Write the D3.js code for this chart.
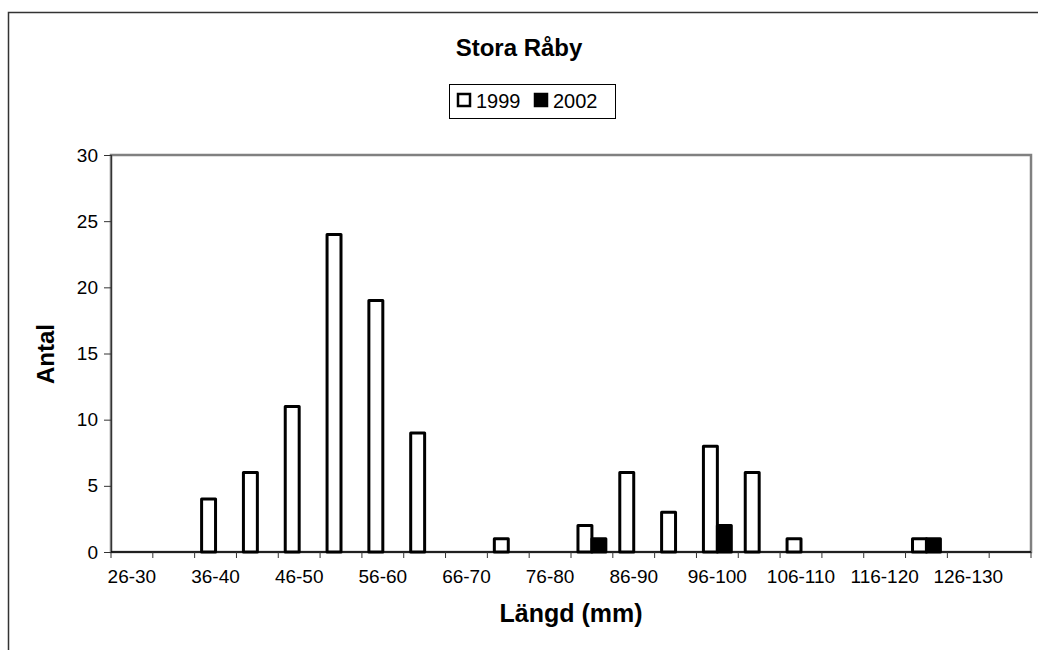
<!DOCTYPE html>
<html>
<head>
<meta charset="utf-8">
<script src="https://cdn.jsdelivr.net/npm/d3@7"></script>
<style>
  body { margin: 0; background: #fff; }
  text { font-family: Arial, "Liberation Sans", sans-serif; }
</style>
</head>
<body>
<script>
let categories = ["26-30", "31-35", "36-40", "41-45", "46-50", "51-55", "56-60", "61-65",
    "66-70", "71-75", "76-80", "81-85", "86-90", "91-95", "96-100", "101-105",
    "106-110", "111-115", "116-120", "121-125", "126-130", "131-135"];
let values1999 = [0, 0, 4, 6, 11, 24, 19, 9, 0, 1, 0, 2, 6, 3, 8, 6, 1, 0, 0, 1, 0, 0];
let values2002 = [0, 0, 0, 0, 0, 0, 0, 0, 0, 0, 0, 1, 0, 0, 2, 0, 0, 0, 0, 1, 0, 0];
let seriesNames = ["1999", "2002"];
let yTicks = [0, 5, 10, 15, 20, 25, 30];

let width = 1038, height = 650;
let plot = {left: 111, top: 155, right: 1031, bottom: 552};

let svg = d3.select("body").append("svg")
    .attr("width", width).attr("height", height);

// outer chart frame (only top and left visible)
svg.append("path")
    .attr("d", "M8.5," + height + "V12.5H" + width)
    .attr("fill", "none").attr("stroke", "#333").attr("stroke-width", 1.5);

let x = d3.scaleBand().domain(categories).range([plot.left, plot.right]).paddingInner(0).paddingOuter(0);
let xs = d3.scaleBand().domain(seriesNames).range([0, x.bandwidth()]).paddingInner(0).paddingOuter(0.5);
let y = d3.scaleLinear().domain([0, 30]).range([plot.bottom, plot.top]);

// plot area border
svg.append("rect")
    .attr("x", plot.left).attr("y", plot.top)
    .attr("width", plot.right - plot.left).attr("height", plot.bottom - plot.top)
    .attr("fill", "#fff").attr("stroke", "#808080").attr("stroke-width", 2.5);

// bars
let rows = categories.map((c, i) => ({cat: c, v: [values1999[i], values2002[i]]}));
let groups = svg.selectAll("g.cat").data(rows).enter().append("g")
    .attr("class", "cat")
    .attr("transform", d => "translate(" + x(d.cat) + ",0)");

groups.selectAll("rect")
    .data(d => d.v.map((v, j) => ({s: seriesNames[j], v: v})).filter(e => e.v > 0))
    .enter().append("rect")
    .attr("x", d => xs(d.s))
    .attr("width", xs.bandwidth())
    .attr("y", d => y(d.v))
    .attr("height", d => y(0) - y(d.v))
    .attr("fill", d => d.s == "1999" ? "#fff" : "#000")
    .attr("stroke", "#000").attr("stroke-width", 3)
    .attr("stroke-linejoin", "round");

// y axis
let yAxis = svg.append("g")
    .attr("transform", "translate(" + plot.left + ",0)")
    .call(d3.axisLeft(y).tickValues(yTicks).tickSize(7).tickPadding(6));
yAxis.select(".domain").attr("stroke", "#333").attr("stroke-width", 1.2);
yAxis.selectAll(".tick line").attr("stroke", "#333");
yAxis.selectAll("text").attr("font-size", 19).attr("fill", "#000");

// x axis: ticks at category boundaries, labels every second category
let xAxisG = svg.append("g").attr("transform", "translate(0," + plot.bottom + ")");
xAxisG.append("line")
    .attr("x1", plot.left).attr("x2", plot.right)
    .attr("stroke", "#000").attr("stroke-width", 1.5);
let boundaries = categories.map(c => x(c)).concat([x.range()[1]]);
xAxisG.selectAll("line.tk").data(boundaries).enter().append("line")
    .attr("class", "tk")
    .attr("x1", d => d).attr("x2", d => d)
    .attr("y1", 0).attr("y2", 6)
    .attr("stroke", "#333").attr("stroke-width", 1);
xAxisG.selectAll("text").data(categories.filter((c, i) => i % 2 == 0)).enter().append("text")
    .attr("x", d => x(d) + x.bandwidth() / 2)
    .attr("y", 31)
    .attr("text-anchor", "middle")
    .attr("font-size", 19)
    .text(d => d);

// title
svg.append("text")
    .attr("x", 519).attr("y", 56)
    .attr("text-anchor", "middle")
    .attr("font-size", 24).attr("font-weight", "bold")
    .text("Stora Råby");

// legend
let legend = svg.append("g").attr("transform", "translate(449,84)");
legend.append("rect")
    .attr("x", 0.5).attr("y", 0.5).attr("width", 166).attr("height", 34)
    .attr("fill", "#fff").attr("stroke", "#000").attr("stroke-width", 1);
let legendX = [8, 85];
seriesNames.forEach((s, i) => {
    legend.append("rect")
        .attr("x", legendX[i] + 1).attr("y", 10)
        .attr("width", 12).attr("height", 12)
        .attr("fill", s == "1999" ? "#fff" : "#000")
        .attr("stroke", "#000").attr("stroke-width", 2.5);
    legend.append("text")
        .attr("x", legendX[i] + 19).attr("y", 24)
        .attr("font-size", 20)
        .text(s);
});

// axis titles
svg.append("text")
    .attr("transform", "translate(54,354) rotate(-90)")
    .attr("text-anchor", "middle")
    .attr("font-size", 24).attr("font-weight", "bold")
    .text("Antal");

svg.append("text")
    .attr("x", (plot.left + plot.right) / 2).attr("y", 622)
    .attr("text-anchor", "middle")
    .attr("font-size", 25).attr("font-weight", "bold")
    .text("Längd (mm)");
</script>
</body>
</html>
